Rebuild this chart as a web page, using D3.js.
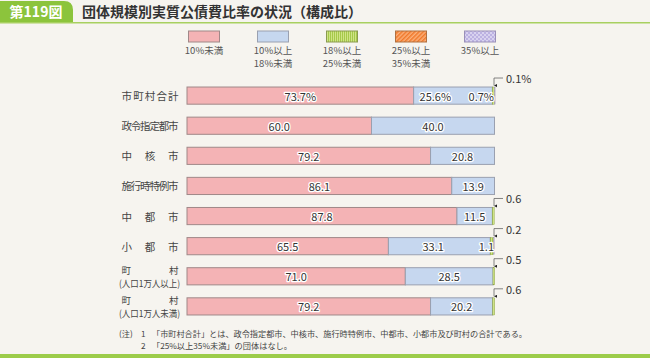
<!DOCTYPE html>
<html><head><meta charset="utf-8">
<script src="https://cdn.jsdelivr.net/npm/d3@7"></script>
<style>
html,body{margin:0;padding:0;background:#f6f4ef;}
svg{display:block;font-family:"Noto Sans CJK JP","Noto Sans",sans-serif;}
</style></head><body>
<svg id="c" width="650" height="358"></svg>
<script>
const categories = ["市町村合計","政令指定都市","中核市","施行時特例市","中都市","小都市","町村1万以上","町村1万未満"];
const seriesNames = ["10%未満","10%以上\n18%未満","18%以上\n25%未満","25%以上\n35%未満","35%以上"];
const s1 = [73.7, 60.0, 79.2, 86.1, 87.8, 65.5, 71.0, 79.2];
const s2 = [25.6, 40.0, 20.8, 13.9, 11.5, 33.1, 28.5, 20.2];
const s3 = [0.7, 0, 0, 0, 0.6, 1.1, 0.5, 0.6];
const s4 = [0, 0, 0, 0, 0, 0, 0, 0];
const s5 = [0.1, 0, 0, 0, 0, 0.2, 0, 0];
const labels1 = ["73.7%","60.0","79.2","86.1","87.8","65.5","71.0","79.2"];
const labels2 = ["25.6%","40.0","20.8","13.9","11.5","33.1","28.5","20.2"];
const labels3 = ["0.7%","","","","","1.1","",""];
const callouts = ["0.1%","","","","0.6","0.2","0.5","0.6"];

const svg = d3.select("#c");
const defs = svg.append("defs");
const pg = defs.append("pattern").attr("id","pGreen").attr("patternUnits","userSpaceOnUse").attr("width",2).attr("height",4);
pg.append("rect").attr("width",2).attr("height",4).attr("fill","#cfe387");
pg.append("rect").attr("width",1).attr("height",4).attr("fill","#a6c94a");
const po = defs.append("pattern").attr("id","pOrange").attr("patternUnits","userSpaceOnUse").attr("width",3).attr("height",3).attr("patternTransform","rotate(45)");
po.append("rect").attr("width",3).attr("height",3).attr("fill","#fbb07a");
po.append("rect").attr("width",1.5).attr("height",3).attr("fill","#f0782a");
const pp = defs.append("pattern").attr("id","pPurple").attr("patternUnits","userSpaceOnUse").attr("width",4).attr("height",4);
pp.append("rect").attr("width",4).attr("height",4).attr("fill","#d8d2ef");
pp.append("rect").attr("width",2).attr("height",2).attr("fill","#bcb2e2");
pp.append("rect").attr("x",2).attr("y",2).attr("width",2).attr("height",2).attr("fill","#bcb2e2");
const arrow = defs.append("marker").attr("id","arr").attr("viewBox","0 0 6 6").attr("refX",3).attr("refY",6)
  .attr("markerWidth",4).attr("markerHeight",4).attr("orient","auto-start-reverse");
arrow.append("path").attr("d","M0,0 L6,0 L3,6 Z").attr("fill","#222");

const fills = ["#f4b3b5","#c6d7ef","url(#pGreen)","url(#pOrange)","url(#pPurple)"];
const strokes = ["#a08888","#9aa0b0","#8a9a50","#b07040","#9a90b8"];

// header
svg.append("path").attr("d","M0,1 H64 Q73,1 73,10 V23 H0 Z").attr("fill","#8cc43c");
svg.append("text").attr("x",36).attr("y",17).attr("text-anchor","middle").attr("fill","#fff")
  .attr("font-size",14).attr("font-weight","bold").text("第119図");
svg.append("rect").attr("x",0).attr("y",22).attr("width",650).attr("height",1.5).attr("fill","#a8d060");
svg.append("text").attr("x",82).attr("y",17).attr("fill","#333").attr("font-size",14).attr("font-weight","bold")
  .text("団体規模別実質公債費比率の状況（構成比）");
svg.append("rect").attr("x",0).attr("y",354).attr("width",650).attr("height",4).attr("fill","#9ccc4a");

// legend
const legX = d3.scalePoint().domain(d3.range(5)).range([204,480]);
seriesNames.forEach((n,i)=>{
  const cx = legX(i);
  svg.append("rect").attr("x",cx-15.5).attr("y",31).attr("width",31).attr("height",11)
    .attr("fill",fills[i]).attr("stroke",strokes[i]).attr("stroke-width",1);
  n.split("\n").forEach((l,j)=>{
    svg.append("text").attr("x",cx).attr("y",50+j*12.5).attr("text-anchor","middle").attr("dominant-baseline","central")
      .attr("font-size",9.5).attr("fill","#555").text(l);
  });
});

// scales
const x = d3.scaleLinear().domain([0,100]).range([187,494.5]);
const y = d3.scaleBand().domain(categories).range([81,321]).paddingInner(0.43).paddingOuter(0.2);

const series = [s1,s2,s3,s4,s5];
const stacked = categories.map((c,ci)=>{
  let acc=0; return series.map((s,si)=>{const v=s[ci]; const r={c,si,x0:acc,x1:acc+v}; acc+=v; return r;});
});

const g = svg.append("g");
stacked.forEach(row=>{
  row.filter(d=>d.x1-d.x0>0).forEach(d=>{
    g.append("rect").attr("x",x(d.x0)).attr("y",y(d.c)).attr("width",Math.max(0.6,x(d.x1)-x(d.x0)))
      .attr("height",y.bandwidth()).attr("fill",fills[d.si]).attr("stroke",d.si===2?"#8aa040":strokes[d.si]).attr("stroke-width",d.si>=2?0.4:1);
  });
});

function lbl(xp,yp,t,anchor){
  const common = s=>s.attr("x",xp).attr("y",yp).attr("text-anchor",anchor||"middle").attr("font-size",11).attr("dominant-baseline","central").text(t);
  common(g.append("text")).attr("fill","none").attr("stroke","#fff").attr("stroke-width",2.5).attr("stroke-linejoin","round");
  common(g.append("text")).attr("fill","#333");
}
categories.forEach((c,i)=>{
  const yc = y(c)+y.bandwidth()/2;
  lbl((x(0)+x(s1[i]))/2, yc, labels1[i]);
  if(labels3[i]){
    lbl(x(s1[i]+s2[i])-57, yc, labels2[i]);
    lbl(x(100)-0.5, yc, labels3[i], "end");
  } else {
    lbl((x(s1[i])+x(s1[i]+s2[i]))/2, yc, labels2[i]);
  }
  if(callouts[i]){
    const xt = x(100)-0.5, yt = y(c);
    g.append("path").attr("d",`M${xt+9},${yt-9} H${xt} V${yt-1.5}`).attr("fill","none").attr("stroke","#666").attr("stroke-width",0.8)
      .attr("marker-end","url(#arr)");
    g.append("text").attr("x",xt+12).attr("y",yt-9).attr("dominant-baseline","central").attr("font-size",11).attr("fill","#333").text(callouts[i]);
  }
});

// category labels
const catLines = {
  "市町村合計":["市町村合計"],"政令指定都市":["政令指定都市"],"中核市":["中核市"],"施行時特例市":["施行時特例市"],
  "中都市":["中都市"],"小都市":["小都市"],"町村1万以上":["町村","(人口1万人以上)"],"町村1万未満":["町村","(人口1万人未満)"]
};
categories.forEach(c=>{
  const yc = y(c)+y.bandwidth()/2;
  const lines = catLines[c];
  lines.forEach((l,j)=>{
    const yy = lines.length===1? yc : yc-6.5+j*13;
    const wide = l.startsWith("(");
    svg.append("text").attr("x",wide?119:121.5).attr("y",yy).attr("dominant-baseline","central")
      .attr("font-size",lines.length===1?10.5:9.5).attr("fill","#444")
      .attr("textLength",wide?61:57).attr("lengthAdjust",wide?"spacingAndGlyphs":"spacing").text(l);
  });
});

// notes
const notes = [["(注)","1","「市町村合計」とは、政令指定都市、中核市、施行時特例市、中都市、小都市及び町村の合計である。",372],
               ["","2","「25%以上35%未満」の団体はなし。",137]];
notes.forEach((n,i)=>{
  const yy = 333+i*12;
  svg.append("text").attr("x",119).attr("y",yy).attr("dominant-baseline","central").attr("font-size",8.2).attr("fill","#444").text(n[0]);
  svg.append("text").attr("x",141).attr("y",yy).attr("dominant-baseline","central").attr("font-size",8.2).attr("fill","#444").text(n[1]);
  svg.append("text").attr("x",152).attr("y",yy).attr("dominant-baseline","central").attr("font-size",8.2).attr("fill","#444")
    .attr("textLength",n[3]+3).attr("lengthAdjust","spacingAndGlyphs").text(n[2]);
});
</script></body></html>
